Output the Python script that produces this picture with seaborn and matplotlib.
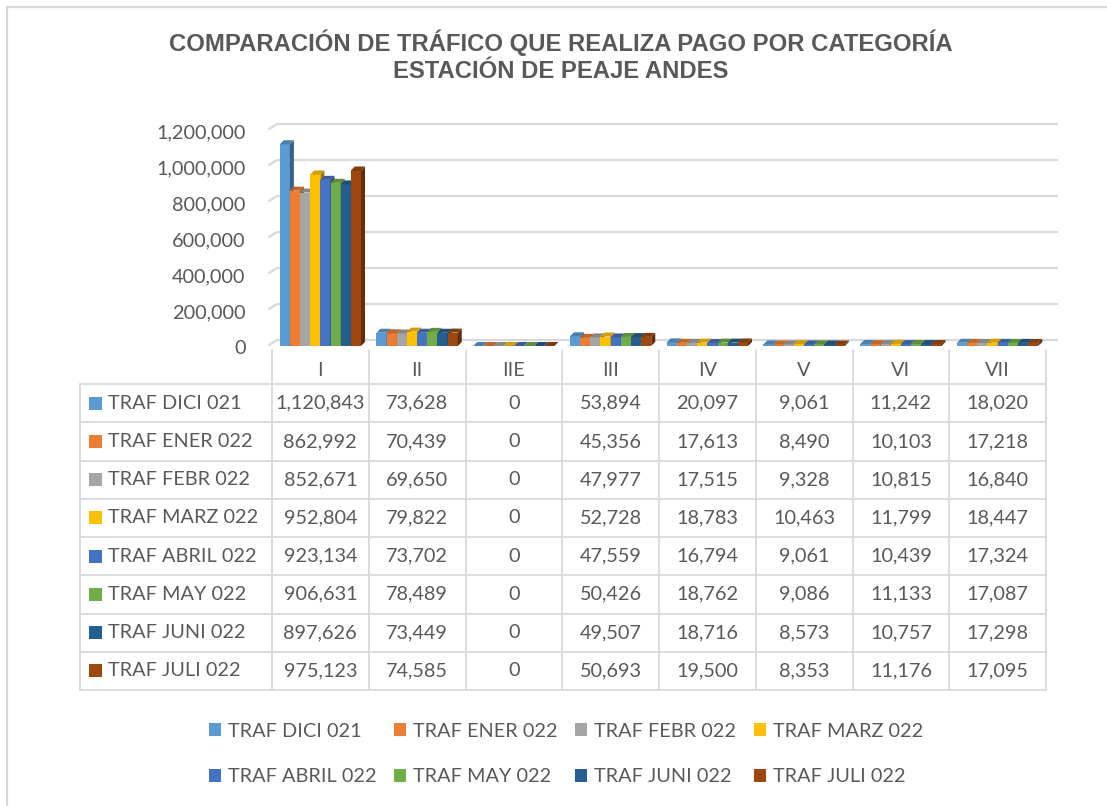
import matplotlib
matplotlib.use("Agg")
import matplotlib.pyplot as plt
import matplotlib.colors as mcolors
import matplotlib.transforms as mtransforms
from matplotlib.patches import Polygon, Rectangle, Patch
import numpy as np
import pandas as pd
import seaborn as sns

# ---- data -------------------------------------------------------------
categories = ["I", "II", "IIE", "III", "IV", "V", "VI", "VII"]
series = ["TRAF DICI 021", "TRAF ENER 022", "TRAF FEBR 022", "TRAF MARZ 022",
          "TRAF ABRIL 022", "TRAF MAY 022", "TRAF JUNI 022", "TRAF JULI 022"]

traf_dici_021 = [1120843, 73628, 0, 53894, 20097, 9061, 11242, 18020]
traf_ener_022 = [862992, 70439, 0, 45356, 17613, 8490, 10103, 17218]
traf_febr_022 = [852671, 69650, 0, 47977, 17515, 9328, 10815, 16840]
traf_marz_022 = [952804, 79822, 0, 52728, 18783, 10463, 11799, 18447]
traf_abril_022 = [923134, 73702, 0, 47559, 16794, 9061, 10439, 17324]
traf_may_022 = [906631, 78489, 0, 50426, 18762, 9086, 11133, 17087]
traf_juni_022 = [897626, 73449, 0, 49507, 18716, 8573, 10757, 17298]
traf_juli_022 = [975123, 74585, 0, 50693, 19500, 8353, 11176, 17095]

values = [traf_dici_021, traf_ener_022, traf_febr_022, traf_marz_022,
          traf_abril_022, traf_may_022, traf_juni_022, traf_juli_022]

colors = ["#5B9BD5", "#ED7D31", "#A5A5A5", "#FFC000",
          "#4472C4", "#70AD47", "#255E91", "#9E480E"]

y_ticks = [0, 200000, 400000, 600000, 800000, 1000000, 1200000]

title_lines = ["COMPARACIÓN DE TRÁFICO QUE REALIZA PAGO POR CATEGORÍA",
               "ESTACIÓN DE PEAJE ANDES"]

df = pd.DataFrame(
    [(c, s, v) for s, vals in zip(series, values) for c, v in zip(categories, vals)],
    columns=["Categoría", "Serie", "Tráfico"],
)

# ---- style ------------------------------------------------------------
sns.set_style("white")
plt.rcParams["font.family"] = ["Lato", "DejaVu Sans"]
TEXT = "#595959"
LINE = "#D9D9D9"
FS = 14.3

W, H = 1107, 806
fig = plt.figure(figsize=(W / 100, H / 100), dpi=100)
fig.patch.set_facecolor("white")

# layout in pixels
left_px, right_px = 272, 1046
base_px, top_px = 346, 130
col_w = (right_px - left_px) / len(categories)

ax = fig.add_axes([left_px / W, 1 - base_px / H,
                   (right_px - left_px) / W, (base_px - top_px) / H])
ax.set_zorder(2)
ax.patch.set_alpha(0)

sns.barplot(data=df, x="Categoría", y="Tráfico", hue="Serie",
            order=categories, hue_order=series, palette=colors,
            width=0.84, gap=0, saturation=1, errorbar=None,
            linewidth=0, legend=False, ax=ax)

ax.set_xlim(-0.5, len(categories) - 0.5)
ax.set_ylim(0, y_ticks[-1])
ax.set_yticks(y_ticks)
ax.set_yticklabels([f"{v:,}" for v in y_ticks], fontsize=FS, color=TEXT)
ax.tick_params(axis="y", length=0, pad=19)
shift_down = mtransforms.ScaledTranslation(0, -3 / 100, fig.dpi_scale_trans)
for lbl in ax.get_yticklabels():
    lbl.set_verticalalignment("center")
    lbl.set_transform(lbl.get_transform() + shift_down)
ax.set_xticks([])
ax.set_xlabel("")
ax.set_ylabel("")
for sp in ax.spines.values():
    sp.set_visible(False)

# 3D look: back wall gridlines and bar depth faces
wall_dx, wall_dy = 5, 6
bar_d = 4
to_data = ax.transData.inverted()

def disp(x, y):
    return ax.transData.transform((x, y))

for v in y_ticks:
    x0, y0 = disp(-0.5, v)
    x1, _ = disp(len(categories) - 0.5, v)
    pts = to_data.transform([(x0 - 3, y0 + 1), (x0 + wall_dx, y0 + wall_dy),
                             (x1 + wall_dx + 6, y0 + wall_dy)])
    ax.plot(pts[:, 0], pts[:, 1], color=LINE, lw=1.6, zorder=0.5, clip_on=False)

bars = sorted([p for p in ax.patches if isinstance(p, Rectangle)], key=lambda p: p.get_x())
for i, p in enumerate(bars):
    x0 = p.get_x()
    x1 = x0 + p.get_width()
    h = p.get_height()
    fc = np.array(mcolors.to_rgb(p.get_facecolor()))
    z = 2 + 3 * i
    p.set_zorder(z)
    X0, Y0 = disp(x0, 0)
    X1, YH = disp(x1, h)
    top = [(X0, YH), (X1, YH), (X1 + bar_d, YH + bar_d), (X0 + bar_d, YH + bar_d)]
    side = [(X1, Y0), (X1, YH), (X1 + bar_d, YH + bar_d), (X1 + bar_d, Y0 + bar_d)]
    ax.add_patch(Polygon(to_data.transform(side), closed=True, lw=0,
                         facecolor=fc * 0.62, zorder=z + 1, clip_on=False))
    ax.add_patch(Polygon(to_data.transform(top), closed=True, lw=0,
                         facecolor=fc * 0.82, zorder=z + 1, clip_on=False))

# ---- overlay in pixel coordinates: border, title, data table ----------
ov = fig.add_axes([0, 0, 1, 1])
ov.set_xlim(0, W)
ov.set_ylim(H, 0)
ov.axis("off")
ov.set_zorder(1)

ov.plot([7, 7], [7, H + 5], color=LINE, lw=1.6)
ov.plot([7, W + 5], [7, 7], color=LINE, lw=1.6)

ov.text(561, 43, title_lines[0], ha="center", va="center", fontsize=17.2,
        fontweight="bold", color=TEXT, family="Liberation Sans")
ov.text(561, 71.5, title_lines[1], ha="center", va="center", fontsize=17.2,
        fontweight="bold", color=TEXT, family="Liberation Sans")

tab_left = 80
head_top = 350
row_top = 384
row_h = 38.25
n_rows = len(series)
tab_bottom = row_top + n_rows * row_h

for k in range(n_rows + 1):
    y = row_top + k * row_h
    ov.plot([tab_left, right_px], [y, y], color=LINE, lw=1.3)
ov.plot([tab_left, tab_left], [row_top, tab_bottom], color=LINE, lw=1.3)
for k in range(len(categories) + 1):
    x = left_px + k * col_w
    ov.plot([x, x], [head_top, tab_bottom], color=LINE, lw=1.3)

for j, cat in enumerate(categories):
    ov.text(left_px + (j + 0.5) * col_w, 370, cat, ha="center", va="center",
            fontsize=FS, color=TEXT)

for i, (name, vals, col) in enumerate(zip(series, values, colors)):
    yc = row_top + (i + 0.5) * row_h
    ov.add_patch(Rectangle((89, yc - 6.5), 13, 13, facecolor=col, lw=0))
    ov.text(108, yc, name, ha="left", va="center", fontsize=FS, color=TEXT)
    for j, v in enumerate(vals):
        ov.text(left_px + (j + 0.5) * col_w, yc, f"{v:,}", ha="center",
                va="center", fontsize=FS, color=TEXT)

# ---- legend -----------------------------------------------------------
handles = [Patch(facecolor=c, edgecolor="none", label=s) for s, c in zip(series, colors)]
order = [0, 4, 1, 5, 2, 6, 3, 7]
leg = fig.legend([handles[k] for k in order], [series[k] for k in order],
                 ncol=4, loc="center", bbox_to_anchor=(566 / W, 1 - 754 / H),
                 frameon=False, fontsize=FS, handlelength=0.6, handleheight=0.6,
                 handletextpad=0.35, columnspacing=0.9, labelspacing=1.45,
                 borderpad=0)
for t in leg.get_texts():
    t.set_color(TEXT)

fig.savefig("out.png", dpi=100, facecolor="white")
